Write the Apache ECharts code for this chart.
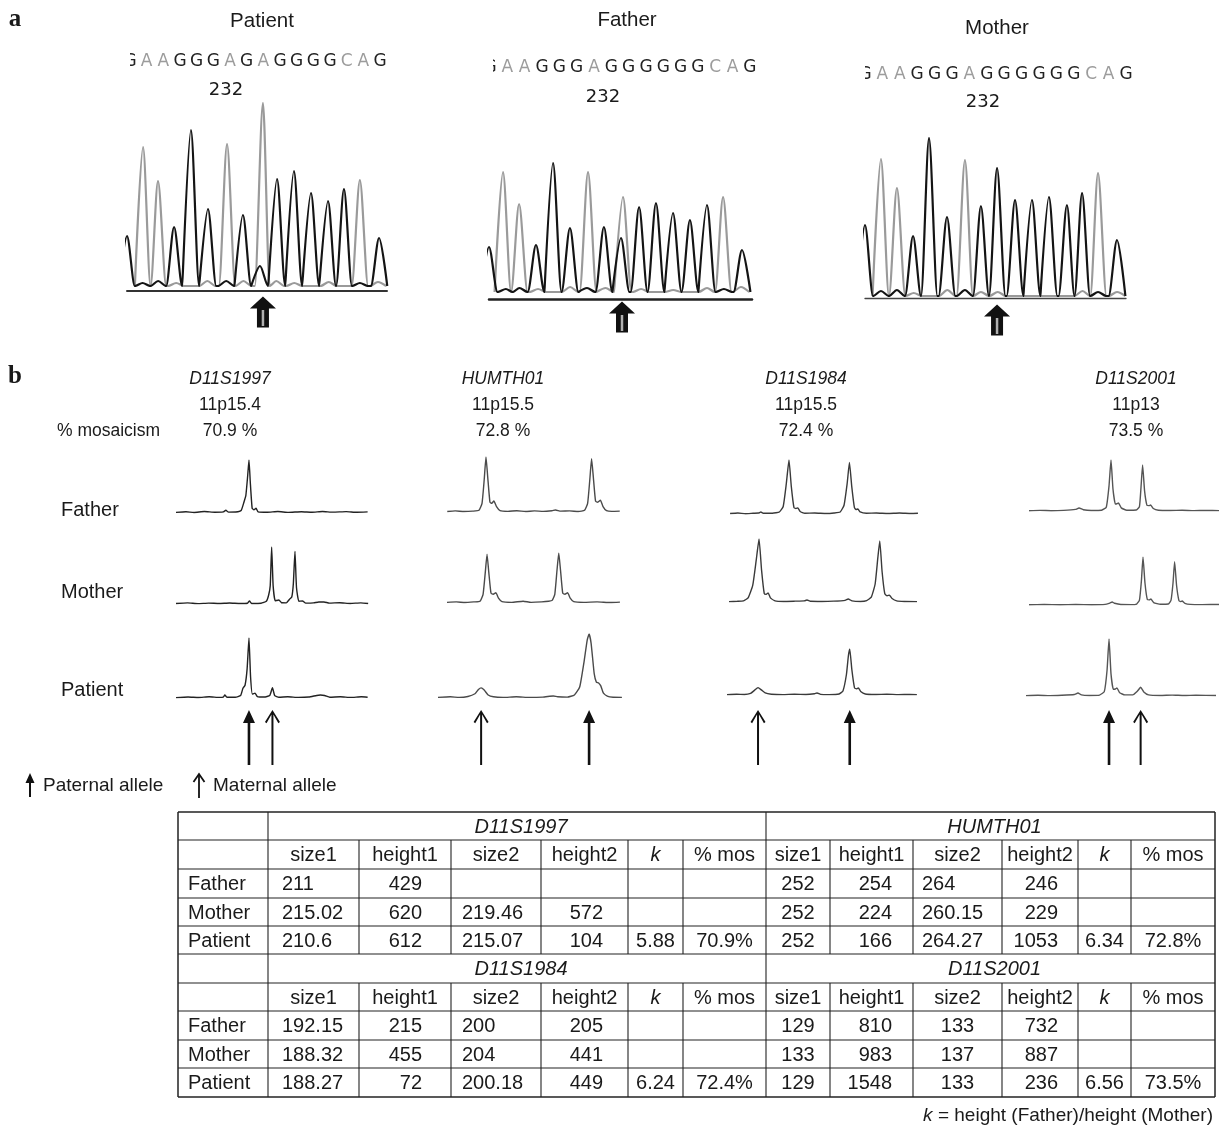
<!DOCTYPE html>
<html><head><meta charset="utf-8">
<script src="https://cdn.jsdelivr.net/npm/echarts@6/dist/echarts.min.js"></script>
<style>html,body{margin:0;padding:0;background:#fff}#chart{width:1221px;height:1130px}</style>
</head><body><div id="chart"></div><script>
// ===================== DATA =====================
// Panel a: sequencing chromatograms (position in base-call units, relative signal height)
const seqSamples = ['Patient', 'Father', 'Mother'];
const seqPatient = 'GAAGGGAGAGGGGCAG';
const seqFather = 'GAAGGGAGGGGGGCAG';
const seqMother = 'GAAGGGAGGGGGGCAG';
const seqPositionLabel = '232';
const chromPatientBlack = [[0,50],[0.95,3],[1.9,5],[2.87,59],[3.9,156],[4.94,77],[6.05,5],[7.07,71],[8.11,20],[9.15,107],[10.18,115],[11.22,93],[12.26,85],[13.23,97],[14.2,3],[15.37,48]];
const chromPatientGray = [[0.98,139],[1.89,105],[3.0,3],[4.9,5],[6.1,142],[7.1,5],[8.29,183],[9.1,5],[10.2,3],[12.3,4],[14.2,106],[15.3,4]];
const chromFatherBlack = [[0,45],[1.0,3],[1.8,4],[2.78,47],[3.79,129],[4.79,64],[5.8,4],[6.8,65],[7.81,54],[8.88,85],[9.88,89],[10.89,79],[11.89,72],[12.9,87],[13.9,3],[14.97,42]];
const chromFatherGray = [[0.83,120],[1.78,88],[2.9,3],[4.8,5],[5.86,120],[6.9,4],[7.93,95],[9.0,3],[10.9,2],[12.9,4],[13.85,95],[14.9,5]];
const chromMotherBlack = [[0,71],[0.95,5],[1.9,6],[2.86,60],[3.81,158],[4.88,79],[5.95,6],[6.9,90],[7.86,128],[8.93,96],[9.94,96],[10.95,99],[12.02,91],[12.92,103],[13.87,4],[15.0,56]];
const chromMotherGray = [[0.95,137],[1.9,108],[2.9,3],[4.9,6],[5.95,136],[6.9,4],[7.9,4],[12.95,5],[13.87,123],[15.0,4]];
const variantPos = [8.29, 7.87, 7.86];

// Panel b: microsatellite electropherograms (size in bp, height in RFU)
const markers = ['D11S1997', 'HUMTH01', 'D11S1984', 'D11S2001'];
const bands = ['11p15.4', '11p15.5', '11p15.5', '11p13'];
const mosaicism = ['70.9 %', '72.8 %', '72.4 %', '73.5 %'];
const rowSamples = ['Father', 'Mother', 'Patient'];
const paternalAllele = [210.6, 264.27, 200.18, 129];
const maternalAllele = [215.07, 252, 188.27, 133];

const trace_D11S1997_Father = [[197.1,5],[199,10],[200.5,4],[202.5,12],[204.5,6],[206.1,9],[206.6,22],[207.1,7],[208.5,8],[209.5,20],[210.05,89],[210.4,140],[210.75,300],[211.0,429],[211.25,250],[211.6,40],[211.95,25],[212.35,38],[212.75,9],[214.5,6],[216.5,12],[218.5,5],[221,10],[223,6],[225,12],[227,7],[229.5,11],[231.5,6],[233.6,9]];
const trace_D11S1997_Mother = [[196.8,5],[199,12],[201,4],[203,10],[205,6],[207,11],[209,5],[210.4,8],[210.8,33],[211.2,6],[213,8],[214.0,30],[214.45,98],[214.75,200],[215.02,620],[215.3,200],[215.7,35],[216.4,44],[216.9,14],[217.8,12],[218.4,50],[218.85,76],[219.15,220],[219.46,572],[219.75,180],[220.2,30],[220.9,33],[221.5,10],[223,12],[224,22],[225,22],[226,10],[228,14],[230,6],[232,12],[233.4,6]];
const trace_D11S1997_Patient = [[196.7,4],[199,10],[201,5],[203,12],[205,6],[205.7,10],[206.0,30],[206.4,8],[208,8],[209.0,25],[209.45,100],[209.85,130],[210.25,300],[210.6,612],[210.9,220],[211.25,40],[211.75,50],[212.2,15],[213.5,10],[214.55,25],[215.07,104],[215.5,25],[216.3,8],[218,12],[220,6],[222,10],[223.5,26],[224.2,30],[225,26],[226,8],[228,12],[230,6],[232,12],[233.2,8]];
const trace_HUMTH01_Father = [[247.6,2],[248.5,5],[249.5,2],[250.5,4],[251.2,8],[251.55,40],[251.8,150],[252.0,254],[252.2,160],[252.45,45],[252.65,40],[252.9,51],[253.2,25],[253.6,6],[254.5,3],[255.5,6],[256.5,2],[257.5,5],[258.5,3],[259.5,6],[259.9,9],[260.5,4],[261.5,5],[262.5,2],[263.2,8],[263.55,40],[263.8,150],[264.0,246],[264.2,160],[264.45,50],[264.7,45],[265.0,55],[265.3,25],[265.7,6],[266.3,3],[267.2,4]];
const trace_HUMTH01_Mother = [[247.45,3],[248.5,5],[249.5,2],[250.5,5],[251.2,8],[251.55,40],[251.8,140],[252.0,224],[252.2,140],[252.45,45],[252.7,40],[253.0,47],[253.3,22],[253.7,6],[254.8,3],[256.1,8],[257,3],[258.2,5],[259.0,8],[259.4,12],[259.7,40],[259.95,150],[260.15,229],[260.35,150],[260.6,45],[260.85,40],[261.15,47],[261.45,22],[261.85,6],[263,3],[264.5,5],[266,2],[267.1,4]];
const trace_HUMTH01_Patient = [[247.1,10],[248.5,20],[249.5,10],[250.5,25],[251.3,70],[251.7,140],[252.0,166],[252.35,130],[252.8,50],[253.4,20],[254.5,10],[256,20],[257.5,10],[259,15],[259.8,28],[260.2,33],[260.7,20],[261.8,15],[262.6,50],[263.2,180],[263.7,600],[264.05,950],[264.27,1053],[264.5,900],[264.85,400],[265.1,260],[265.35,247],[265.6,200],[265.9,80],[266.4,25],[267.0,12],[268.0,10]];
const trace_D11S1984_Father = [[184.5,2],[185.5,4],[186.5,1],[187.5,3],[188.2,4],[188.5,8],[188.8,3],[190.0,3],[190.9,8],[191.4,30],[191.8,120],[192.15,215],[192.45,110],[192.8,25],[193.05,22],[193.3,24],[193.6,10],[194.2,3],[195.5,4],[197,2],[198,4],[198.8,8],[199.3,35],[199.7,120],[200.0,205],[200.3,110],[200.65,25],[200.85,18],[201.1,20],[201.4,8],[202.2,3],[203.5,4],[205,2],[206.5,4],[208,2],[208.9,3]];
const trace_D11S1984_Mother = [[184.42,3],[185.5,5],[186.3,8],[186.9,30],[187.5,120],[187.95,300],[188.32,455],[188.65,230],[189.0,60],[189.25,55],[189.5,65],[189.8,30],[190.4,8],[191.5,4],[193,6],[194.2,8],[194.55,14],[195,5],[196.5,4],[198,6],[199.5,12],[199.9,22],[200.4,8],[201.5,4],[202.3,10],[202.9,35],[203.4,130],[203.75,320],[204.0,441],[204.3,220],[204.65,60],[204.95,45],[205.25,50],[205.6,25],[206.2,8],[207.2,4],[208.84,3]];
const trace_D11S1984_Patient = [[184.24,4],[185.5,8],[186.5,5],[187.3,15],[187.8,45],[188.27,72],[188.7,50],[189.2,20],[190,8],[191.5,4],[193,8],[194.5,5],[195.6,12],[195.93,20],[196.4,6],[197.5,4],[198.8,10],[199.3,40],[199.75,200],[200.0,380],[200.18,449],[200.45,250],[200.8,70],[201.05,60],[201.3,68],[201.6,35],[202.2,10],[203.5,5],[205,8],[206.5,4],[208,6],[208.9,4]];
const trace_D11S2001_Father = [[118.62,5],[120,10],[121.5,5],[123,10],[124.5,25],[124.95,48],[125.5,20],[126.5,8],[127.8,12],[128.4,60],[128.75,400],[129.0,810],[129.25,350],[129.55,110],[129.75,115],[129.95,127],[130.3,50],[131,12],[132.2,15],[132.6,70],[132.8,380],[133.0,732],[133.25,320],[133.55,90],[133.8,85],[134.0,95],[134.35,40],[135,12],[136.5,8],[138,12],[139.5,6],[141,10],[142.67,6]];
const trace_D11S2001_Mother = [[118.57,5],[120.5,10],[122.5,5],[124.5,10],[126.5,6],[128.2,12],[128.8,40],[129.1,60],[129.4,35],[130.2,10],[131.5,8],[132.2,20],[132.55,100],[132.8,500],[133.0,983],[133.25,450],[133.55,110],[133.8,105],[134.0,123],[134.35,50],[135.2,15],[136.2,20],[136.55,100],[136.8,450],[137.0,887],[137.25,400],[137.55,90],[137.75,70],[137.95,82],[138.3,35],[139,12],[140.5,8],[142.62,10]];
const trace_D11S2001_Patient = [[118.49,10],[120,20],[121.5,10],[123,20],[124.6,40],[125.07,82],[125.5,30],[126.5,15],[127.8,25],[128.4,120],[128.75,700],[129.0,1548],[129.25,600],[129.55,180],[129.8,190],[130.0,218],[130.35,90],[131,30],[132.0,30],[132.55,120],[133.0,236],[133.4,110],[134.0,30],[135.5,15],[137,25],[138.5,12],[140,22],[142.54,12]];

// Table
const tableCols = ['size1', 'height1', 'size2', 'height2', 'k', '% mos'];
const table_D11S1997 = [['211','429','','','',''],['215.02','620','219.46','572','',''],['210.6','612','215.07','104','5.88','70.9%']];
const table_HUMTH01 = [['252','254','264','246','',''],['252','224','260.15','229','',''],['252','166','264.27','1053','6.34','72.8%']];
const table_D11S1984 = [['192.15','215','200','205','',''],['188.32','455','204','441','',''],['188.27','72','200.18','449','6.24','72.4%']];
const table_D11S2001 = [['129','810','133','732','',''],['133','983','137','887','',''],['129','1548','133','236','6.56','73.5%']];
const legendLabels = ['Paternal allele', 'Maternal allele'];
const footnoteText = ' = height (Father)/height (Mother)';

// ===================== LAYOUT / BUILD =====================
const FONT = 'Liberation Sans';
const INK = '#1a1a1a';
const option = { animation: false, backgroundColor: '#fff', grid: [], xAxis: [], yAxis: [], series: [], graphic: { elements: [] } };
const G = option.graphic.elements;
function txt(x, y, text, o) {
  o = o || {};
  const st = { text: text, fill: o.fill || INK, fontSize: o.size || 19, fontFamily: o.family || FONT,
    fontStyle: o.italic ? 'italic' : 'normal', fontWeight: o.bold ? 'bold' : 'normal',
    textAlign: o.align || 'center', align: o.align || 'center', textVerticalAlign: 'middle', verticalAlign: 'middle' };
  if (o.rich) st.rich = o.rich;
  G.push({ type: 'text', x: x, y: y, z: o.z || 10, style: st, silent: true });
}
function line(x1, y1, x2, y2, w, c) {
  G.push({ type: 'line', shape: { x1: x1, y1: y1, x2: x2, y2: y2 }, style: { stroke: c || '#222', lineWidth: w || 1 }, silent: true, z: 5 });
}
// base/apex/base outline of chromatogram peaks
function peakLine(peaks) {
  const pts = [];
  for (let i = 0; i < peaks.length; i++) {
    const p = peaks[i][0], h = peaks[i][1];
    const prev = i > 0 ? peaks[i - 1][0] : -Infinity;
    const next = i < peaks.length - 1 ? peaks[i + 1][0] : Infinity;
    const l = Math.max(p - 0.5, (prev + p) / 2), r = Math.min(p + 0.5, (p + next) / 2);
    if (!pts.length || pts[pts.length - 1][0] < l - 1e-6) pts.push([l, 0]);
    pts.push([p, h]);
    pts.push([r, 0]);
  }
  return pts;
}

txt(15, 20, 'a', { bold: true, family: 'Liberation Serif', size: 25 });
txt(15, 377, 'b', { bold: true, family: 'Liberation Serif', size: 25 });

// ---------- Panel a ----------
const chromSets = [
  { black: chromPatientBlack, gray: chromPatientGray, seq: seqPatient },
  { black: chromFatherBlack, gray: chromFatherGray, seq: seqFather },
  { black: chromMotherBlack, gray: chromMotherGray, seq: seqMother }
];
const chromLayout = [
  { left: 127, right: 387, base: 286, sp: 16.4, axOff: 5, axW: 2, axC: '#333', title: [262, 21], seq: [130, 16.67, 62], mask: 8, pos: [226, 90], arrowOff: 26 },
  { left: 489, right: 752, base: 292, sp: 16.9, axOff: 7, axW: 2.5, axC: '#222', title: [627, 20], seq: [490, 17.33, 68], mask: 11, pos: [603, 97], arrowOff: 25 },
  { left: 865, right: 1126, base: 296, sp: 16.8, axOff: 2, axW: 1.3, axC: '#444', title: [997, 28], seq: [865, 17.4, 75], mask: 8, pos: [983, 102], arrowOff: 24 }
];
const blockArrow = 'path://M13,0 L26,12 L19,12 L19,31 L7,31 L7,12 L0,12 Z';
chromSets.forEach(function (cs, i) {
  const L = chromLayout[i];
  const maxH = Math.max.apply(null, cs.black.concat(cs.gray).map(function (d) { return d[1]; }));
  const gi = option.grid.length;
  option.grid.push({ left: L.left, top: L.base - maxH, width: L.right - L.left, height: maxH });
  option.xAxis.push({ gridIndex: gi, type: 'value', min: 0, max: (L.right - L.left) / L.sp, offset: L.axOff,
    axisLine: { show: true, onZero: false, lineStyle: { color: L.axC, width: L.axW } },
    axisTick: { show: false }, axisLabel: { show: false }, splitLine: { show: false } });
  option.yAxis.push({ gridIndex: gi, type: 'value', min: 0, max: maxH, show: false, splitLine: { show: false } });
  option.series.push({ type: 'line', xAxisIndex: gi, yAxisIndex: gi, data: peakLine(cs.gray), symbol: 'none',
    smooth: 0.3, smoothMonotone: 'x', lineStyle: { color: '#9a9a9a', width: 2.2 }, z: 2, silent: true });
  option.series.push({ type: 'line', xAxisIndex: gi, yAxisIndex: gi, data: peakLine(cs.black), symbol: 'none',
    smooth: 0.3, smoothMonotone: 'x', lineStyle: { color: '#141414', width: 2.2 }, z: 3, silent: true,
    markPoint: { silent: true, label: { show: false }, data: [
      { coord: [variantPos[i], 0], symbol: blockArrow, symbolSize: [26, 31], symbolOffset: [0, L.arrowOff], itemStyle: { color: '#111' } },
      { coord: [variantPos[i], 0], symbol: 'rect', symbolSize: [2.5, 16], symbolOffset: [0, L.arrowOff + 6], itemStyle: { color: '#b0b0b0' } }
    ] } });
  // titles and sequence text
  txt(L.title[0], L.title[1], seqSamples[i], { size: 20.5 });
  for (let k = 0; k < cs.seq.length; k++) {
    const ch = cs.seq[k];
    txt(L.seq[0] + k * L.seq[1], L.seq[2], ch, { family: 'DejaVu Sans', size: 17, fill: ch === 'G' ? '#222' : '#9c9c9c' });
  }
  G.push({ type: 'rect', shape: { x: L.seq[0] - 12, y: L.seq[2] - 12, width: 4 + L.mask, height: 24 }, style: { fill: '#fff' }, z: 20, silent: true });
  txt(L.pos[0], L.pos[1], seqPositionLabel, { family: 'DejaVu Sans', size: 18 });
});

// ---------- Panel b ----------
const traceSets = [
  [trace_D11S1997_Father, trace_D11S1997_Mother, trace_D11S1997_Patient],
  [trace_HUMTH01_Father, trace_HUMTH01_Mother, trace_HUMTH01_Patient],
  [trace_D11S1984_Father, trace_D11S1984_Mother, trace_D11S1984_Patient],
  [trace_D11S2001_Father, trace_D11S2001_Mother, trace_D11S2001_Patient]
];
// per row: [left, right, baselineY, xMin(bp), peak pixel height]
const traceLayout = [
  { ppb: 5.25, cx: 230, color: '#222', rows: [[176, 368, 513, 197.1, 53], [176, 368, 604, 196.8, 57], [176, 368, 698, 196.7, 60]] },
  { ppb: 8.8, cx: 503, color: '#4a4a4a', rows: [[447, 620, 512, 247.57, 55], [447, 620, 603, 247.45, 50], [438, 622, 698, 247.1, 64]] },
  { ppb: 7.7, cx: 806, color: '#3a3a3a', rows: [[730, 918, 514, 184.49, 54], [729, 917, 602, 184.42, 63], [727, 917, 695, 184.24, 46]] },
  { ppb: 7.9, cx: 1136, color: '#555', rows: [[1029, 1219, 511, 118.62, 51], [1029, 1219, 605, 118.57, 48], [1026, 1216, 696, 118.49, 57]] }
];
const arrowCenterY = 737.5;
const filledArrow = 'path://M6,0 L12,13 L7.3,13 L7.3,55 L4.7,55 L4.7,13 L0,13 Z';
const openArrow = 'path://M7.5,0 L15,12 L13.4,13.2 L8.5,4.5 L8.5,55 L6.5,55 L6.5,4.5 L1.6,13.2 L0,12 Z';
traceSets.forEach(function (set, m) {
  const TL = traceLayout[m];
  set.forEach(function (data, r) {
    const R = TL.rows[r];
    const gi = option.grid.length;
    const maxH = Math.max.apply(null, data.map(function (d) { return d[1]; }));
    option.grid.push({ left: R[0], top: R[2] - R[4], width: R[1] - R[0], height: R[4] });
    option.xAxis.push({ gridIndex: gi, type: 'value', min: R[3], max: R[3] + (R[1] - R[0]) / TL.ppb, show: false, splitLine: { show: false } });
    option.yAxis.push({ gridIndex: gi, type: 'value', min: 0, max: maxH, show: false, splitLine: { show: false } });
    const s = { type: 'line', xAxisIndex: gi, yAxisIndex: gi, data: data, symbol: 'none', smooth: 0.15,
      lineStyle: { color: TL.color, width: 1.4 }, z: 3, silent: true };
    if (r === 2) {
      const off = arrowCenterY - R[2];
      s.markPoint = { silent: true, label: { show: false }, data: [
        { coord: [paternalAllele[m], 0], symbol: filledArrow, symbolSize: [12, 55], symbolOffset: [0, off], itemStyle: { color: '#111' } },
        { coord: [maternalAllele[m], 0], symbol: openArrow, symbolSize: [15, 55], symbolOffset: [0, off], itemStyle: { color: '#111' } }
      ] };
    }
    option.series.push(s);
  });
  txt(TL.cx, 379, markers[m], { italic: true, size: 17.5 });
  txt(TL.cx, 405, bands[m], { size: 17.5 });
  txt(TL.cx, 431, mosaicism[m], { size: 17.5 });
});
txt(57, 431, '% mosaicism', { align: 'left', size: 17.5 });
[510, 592, 690].forEach(function (y, r) { txt(61, y, rowSamples[r], { align: 'left', size: 20 }); });

// legend
G.push({ type: 'polygon', shape: { points: [[30, 773], [34.5, 783], [31, 783], [31, 797], [29, 797], [29, 783], [25.5, 783]] }, style: { fill: '#111' }, silent: true });
txt(43, 786, legendLabels[0], { align: 'left' });
G.push({ type: 'polyline', shape: { points: [[193.5, 782], [199, 774], [204.5, 782]] }, style: { stroke: '#111', lineWidth: 1.8, fill: null }, silent: true });
line(199, 774, 199, 798, 1.8, '#111');
txt(213, 786, legendLabels[1], { align: 'left' });

// ---------- Table ----------
const colX = [178, 268, 359, 451, 541, 628, 683, 766, 830, 913, 1002, 1078, 1131, 1215];
const rowY = [812, 840, 869, 898, 926, 954, 983, 1011, 1040, 1068, 1097];
const blockAlign = [
  [['left', 14], ['right', 29], ['left', 11], ['right', 25], ['center'], ['center']],
  [['center'], ['right', 21], ['left', 9], ['right', 20], ['center'], ['center']]
];
const tableBlocks = [[table_D11S1997, table_HUMTH01], [table_D11S1984, table_D11S2001]];
const tableNames = [[markers[0], markers[1]], [markers[2], markers[3]]];
rowY.forEach(function (y, i) { line(colX[0], y, colX[13], y, (i === 0 || i === rowY.length - 1) ? 1.5 : 1.1); });
for (let b = 0; b < 2; b++) {
  const y0 = rowY[b * 5];
  [colX[0], colX[1], colX[7], colX[13]].forEach(function (x) { line(x, y0, x, rowY[b * 5 + 1], x === colX[0] || x === colX[13] ? 1.5 : 1.1); });
  for (let h = 0; h < 2; h++) {
    const xa = colX[1 + h * 6], xb = colX[7 + h * 6];
    txt((xa + xb) / 2 + 4, (rowY[b * 5] + rowY[b * 5 + 1]) / 2 + 1, tableNames[b][h], { italic: true, size: 20 });
  }
  for (let r = 1; r < 5; r++) {
    const ya = rowY[b * 5 + r], yb = rowY[b * 5 + r + 1], yc = (ya + yb) / 2 + 1;
    colX.forEach(function (x, ci) { line(x, ya, x, yb, ci === 0 || ci === 13 ? 1.5 : 1.1); });
    if (r === 1) {
      for (let h = 0; h < 2; h++) for (let c = 0; c < 6; c++) {
        const xa = colX[1 + h * 6 + c], xb = colX[2 + h * 6 + c];
        txt((xa + xb) / 2, yc, tableCols[c], { italic: c === 4, size: 20 });
      }
    } else {
      txt(188, yc, rowSamples[r - 2], { align: 'left', size: 20 });
      for (let h = 0; h < 2; h++) {
        const vals = tableBlocks[b][h][r - 2];
        for (let c = 0; c < 6; c++) {
          if (!vals[c]) continue;
          const xa = colX[1 + h * 6 + c], xb = colX[2 + h * 6 + c];
          let al = blockAlign[h][c];
          if (b === 1 && h === 1 && c === 2) al = ['center'];
          const x = al[0] === 'left' ? xa + al[1] : al[0] === 'right' ? xb - al[1] : (xa + xb) / 2;
          txt(x, yc, vals[c], { align: al[0], size: 20 });
        }
      }
    }
  }
}
txt(1213, 1116, '{i|k}' + footnoteText, { align: 'right', size: 19, rich: { i: { fontStyle: 'italic', fontSize: 19, fontFamily: FONT, fill: INK } } });

const chart = echarts.init(document.getElementById('chart'), null, { renderer: 'canvas', width: 1221, height: 1130 });
chart.setOption(option);
</script></body></html>
